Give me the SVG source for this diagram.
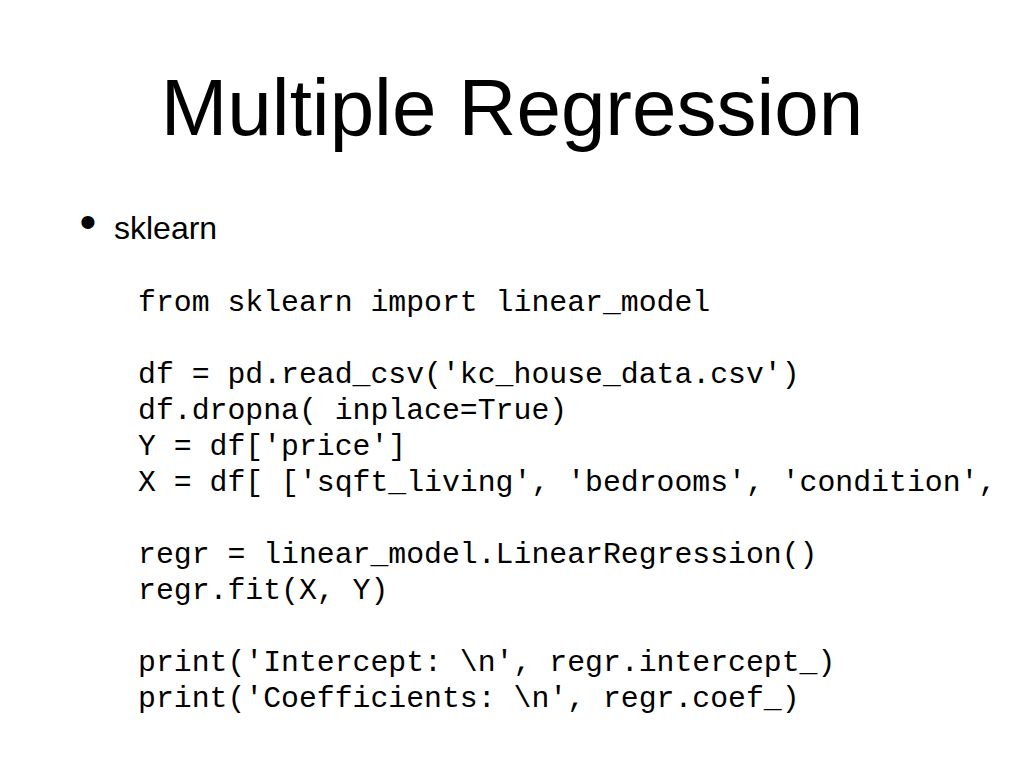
<svg xmlns="http://www.w3.org/2000/svg" width="1024" height="768" viewBox="0 0 1024 768">
<style>
.title{font-family:"Liberation Sans",Arial,sans-serif;font-size:80px;fill:#000}
.body{font-family:"Liberation Sans",Arial,sans-serif;font-size:32px;fill:#000}
.bul{font-family:"Liberation Sans",Arial,sans-serif;font-size:48px;fill:#000}
.code{font-family:"Liberation Mono","Courier New",monospace;font-size:29.8px;fill:#000;white-space:pre}
</style>
<rect width="1024" height="768" fill="#fff"/>
<g id="title"><text class="title" x="512" y="135" text-anchor="middle">Multiple Regression</text></g>
<g id="bullet">
<text class="bul" x="79.5" y="238">•</text>
<text class="body" x="114" y="239">sklearn</text>
</g>
<g id="code">
<text class="code" x="138" y="311" xml:space="preserve">from sklearn import linear_model</text>
<text class="code" x="138" y="383" xml:space="preserve">df = pd.read_csv('kc_house_data.csv')</text>
<text class="code" x="138" y="419" xml:space="preserve">df.dropna( inplace=True)</text>
<text class="code" x="138" y="455" xml:space="preserve">Y = df['price']</text>
<text class="code" x="138" y="491" xml:space="preserve">X = df[ ['sqft_living', 'bedrooms', 'condition',</text>
<text class="code" x="138" y="563" xml:space="preserve">regr = linear_model.LinearRegression()</text>
<text class="code" x="138" y="599" xml:space="preserve">regr.fit(X, Y)</text>
<text class="code" x="138" y="671" xml:space="preserve">print('Intercept: \n', regr.intercept_)</text>
<text class="code" x="138" y="707" xml:space="preserve">print('Coefficients: \n', regr.coef_)</text>
</g>
</svg>
